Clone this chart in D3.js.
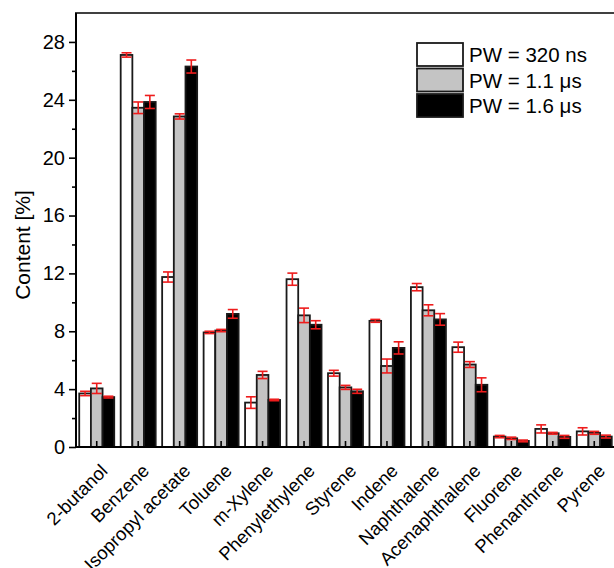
<!DOCTYPE html>
<html lang="en">
<head>
<meta charset="utf-8">
<style>
  body { margin: 0; background: #fff; }
  text { font-family: "Liberation Sans", Arial, sans-serif; fill: #000; }
</style>
<script src="https://cdnjs.cloudflare.com/ajax/libs/d3/7.8.5/d3.min.js"></script>
</head>
<body>
<div id="chart"></div>
<script>
// categories and values
var categories = ["2-butanol", "Benzene", "Isopropyl acetate", "Toluene", "m-Xylene",
  "Phenylethylene", "Styrene", "Indene", "Naphthalene", "Acenaphthalene",
  "Fluorene", "Phenanthrene", "Pyrene"];
var seriesNames = ["PW = 320 ns", "PW = 1.1 \u03bcs", "PW = 1.6 \u03bcs"];
var pw320 = [3.7, 27.1, 11.75, 7.92, 3.07, 11.6, 5.1, 8.72, 11.05, 6.9, 0.72, 1.25, 1.08];
var pw11  = [4.05, 23.45, 22.85, 8.05, 4.98, 9.1, 4.12, 5.6, 9.45, 5.7, 0.6, 0.95, 0.98];
var pw16  = [3.45, 23.85, 26.3, 9.2, 3.25, 8.45, 3.85, 6.85, 8.82, 4.3, 0.42, 0.7, 0.72];
var err320 = [0.15, 0.15, 0.35, 0.08, 0.4, 0.42, 0.2, 0.1, 0.25, 0.35, 0.08, 0.28, 0.25];
var err11  = [0.35, 0.4, 0.18, 0.08, 0.25, 0.5, 0.14, 0.48, 0.38, 0.2, 0.08, 0.06, 0.1];
var err16  = [0.06, 0.45, 0.45, 0.3, 0.05, 0.28, 0.14, 0.42, 0.4, 0.48, 0.06, 0.1, 0.1];
var yTicks = [0, 4, 8, 12, 16, 20, 24, 28];
var yMinor = [2, 6, 10, 14, 18, 22, 26];
var fills = ["#ffffff", "#c4c4c4", "#000000"];

var W = 614, H = 568;
var pLeft = 76, pTop = 13, pRight = 615, pBottom = 447;

var svg = d3.select("#chart").append("svg")
  .attr("width", W).attr("height", H);

var x = d3.scaleBand().domain(categories).range([pLeft, pRight]).padding(0);
var sub = d3.scaleBand().domain(seriesNames).range([-17.5, 17.5]);
var y = d3.scaleLinear().domain([0, 30]).range([pBottom, pTop]);

var values = [pw320, pw11, pw16];
var errs = [err320, err11, err16];
var rows = [];
seriesNames.forEach(function(s, si) {
  categories.forEach(function(c, ci) {
    rows.push({s: s, si: si, c: c, v: values[si][ci], e: errs[si][ci]});
  });
});

// bars
svg.append("g").selectAll("rect")
  .data(rows)
  .enter().append("rect")
    .attr("x", function(d) { return x(d.c) + x.bandwidth() / 2 + sub(d.s); })
    .attr("y", function(d) { return y(d.v); })
    .attr("width", sub.bandwidth())
    .attr("height", function(d) { return y(0) - y(d.v); })
    .attr("fill", function(d) { return fills[d.si]; })
    .attr("stroke", "#1a1a1a")
    .attr("stroke-width", 1.8);

// x ticks pointing in
svg.append("g").selectAll("line")
  .data(categories)
  .enter().append("line")
    .attr("x1", function(d) { return x(d) + x.bandwidth() / 2; })
    .attr("x2", function(d) { return x(d) + x.bandwidth() / 2; })
    .attr("y1", pBottom).attr("y2", pBottom - 6)
    .attr("stroke", "#000").attr("stroke-width", 1.6);

// error bars
var eg = svg.append("g").attr("stroke", "#ee1c1c").attr("stroke-width", 1.6);
rows.forEach(function(d) {
  var cx = x(d.c) + x.bandwidth() / 2 + sub(d.s) + sub.bandwidth() / 2;
  eg.append("line").attr("x1", cx).attr("x2", cx)
    .attr("y1", y(d.v - d.e)).attr("y2", y(d.v + d.e));
  [d.v - d.e, d.v + d.e].forEach(function(v) {
    eg.append("line").attr("x1", cx - 5).attr("x2", cx + 5)
      .attr("y1", y(v)).attr("y2", y(v));
  });
});

// y axis
var yAxis = svg.append("g")
  .attr("transform", "translate(" + pLeft + ",0)")
  .call(d3.axisLeft(y).tickValues(yTicks).tickSize(7).tickPadding(4));
yAxis.select(".domain").remove();
yAxis.selectAll("line").attr("stroke-width", 1.6);
yAxis.selectAll("text").style("font-size", "20px").attr("font-family", null);
svg.append("g")
  .attr("transform", "translate(" + pLeft + ",0)")
  .call(d3.axisLeft(y).tickValues(yMinor).tickSize(4).tickFormat(""))
  .call(function(g) { g.select(".domain").remove(); g.selectAll("line").attr("stroke-width", 1.6); });

// frame lines
svg.append("line").attr("x1", pLeft).attr("x2", pLeft).attr("y1", pTop).attr("y2", pBottom + 1)
  .attr("stroke", "#000").attr("stroke-width", 2);
svg.append("line").attr("x1", pLeft - 1).attr("x2", W).attr("y1", pBottom).attr("y2", pBottom)
  .attr("stroke", "#000").attr("stroke-width", 2);
svg.append("line").attr("x1", pLeft - 1).attr("x2", W).attr("y1", pTop).attr("y2", pTop)
  .attr("stroke", "#000").attr("stroke-width", 1.6);

// x labels
svg.append("g").selectAll("text")
  .data(categories)
  .enter().append("text")
    .attr("transform", function(d) {
      return "translate(" + (x(d) + x.bandwidth() / 2 + 12) + "," + 472 + ") rotate(-45)";
    })
    .attr("text-anchor", "end")
    .style("font-size", "18.5px")
    .text(function(d) { return d; });

// y title
svg.append("text")
  .attr("transform", "translate(30,245) rotate(-90)")
  .attr("text-anchor", "middle")
  .style("font-size", "21px")
  .text("Content [%]");

// legend
var lg = svg.append("g").attr("transform", "translate(417,43)");
seriesNames.forEach(function(s, i) {
  lg.append("rect").attr("x", 0).attr("y", i * 25.5).attr("width", 46).attr("height", 23)
    .attr("fill", fills[i]).attr("stroke", "#1a1a1a").attr("stroke-width", 1.8);
  lg.append("text").attr("x", 52).attr("y", i * 25.5 + 19)
    .style("font-size", "20.5px").text(s);
});
</script>
</body>
</html>
